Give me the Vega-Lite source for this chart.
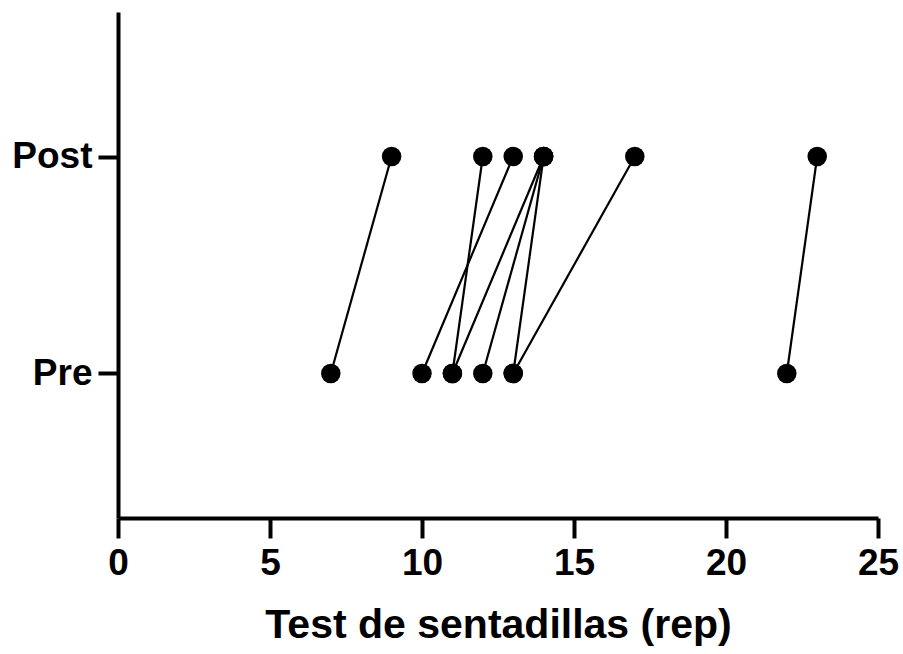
{
  "$schema": "https://vega.github.io/schema/vega-lite/v6.json",
  "width": 760,
  "height": 506,
  "autosize": "none",
  "padding": {"left": 118, "top": 12, "right": 25, "bottom": 136},
  "background": "white",
  "config": {
    "view": {"stroke": null},
    "font": "Liberation Sans",
    "axis": {
      "domainColor": "black",
      "domainWidth": 4,
      "tickColor": "black",
      "tickWidth": 4,
      "tickSize": 20,
      "grid": false,
      "labelColor": "black",
      "labelFont": "Liberation Sans",
      "labelFontWeight": "bold",
      "labelFontSize": 37,
      "titleFont": "Liberation Sans",
      "titleFontWeight": "bold",
      "titleFontSize": 41,
      "titleColor": "black"
    }
  },
  "data": {
    "values": [
      {"subject": "S1", "time": "Pre", "value": 7},
      {"subject": "S1", "time": "Post", "value": 9},
      {"subject": "S2", "time": "Pre", "value": 10},
      {"subject": "S2", "time": "Post", "value": 13},
      {"subject": "S3", "time": "Pre", "value": 11},
      {"subject": "S3", "time": "Post", "value": 12},
      {"subject": "S4", "time": "Pre", "value": 11},
      {"subject": "S4", "time": "Post", "value": 14},
      {"subject": "S5", "time": "Pre", "value": 12},
      {"subject": "S5", "time": "Post", "value": 14},
      {"subject": "S6", "time": "Pre", "value": 13},
      {"subject": "S6", "time": "Post", "value": 14},
      {"subject": "S7", "time": "Pre", "value": 13},
      {"subject": "S7", "time": "Post", "value": 17},
      {"subject": "S8", "time": "Pre", "value": 22},
      {"subject": "S8", "time": "Post", "value": 23}
    ]
  },
  "encoding": {
    "x": {
      "field": "value",
      "type": "quantitative",
      "scale": {"domain": [0, 25], "nice": false, "zero": true},
      "axis": {"values": [0, 5, 10, 15, 20, 25], "title": "Test de sentadillas (rep)", "labelPadding": 7, "titlePadding": 24, "labelFlush": false}
    },
    "y": {
      "field": "time",
      "type": "ordinal",
      "sort": ["Post", "Pre"],
      "scale": {"type": "point", "padding": 0.666},
      "axis": {"title": null, "labelPadding": 6, "domain": true}
    }
  },
  "layer": [
    {
      "mark": {"type": "line", "color": "black", "strokeWidth": 2.2},
      "encoding": {"detail": {"field": "subject"}}
    },
    {
      "mark": {"type": "circle", "color": "black", "opacity": 1, "size": 380}
    }
  ]
}
